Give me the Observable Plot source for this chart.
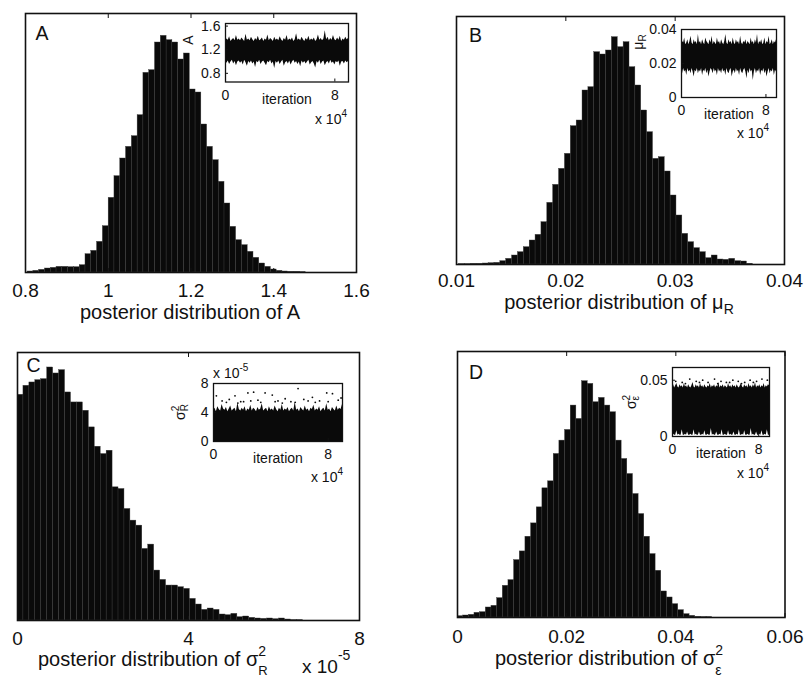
<!DOCTYPE html>
<html><head><meta charset="utf-8">
<script src="https://cdn.jsdelivr.net/npm/d3@7"></script>
<script src="https://cdn.jsdelivr.net/npm/@observablehq/plot@0.6"></script>
<style>
html,body{margin:0;padding:0;background:#fff;}
#chart{position:relative;width:804px;height:678px;overflow:hidden;background:#fff;}
#chart svg{position:absolute;}
</style></head><body><div id="chart"></div>
<script>
// ---------- histogram data (bin start, bin width, counts) ----------
const startA = 0.805, widthA = 0.014;
const countsA = [3,5,8,12,14,17,17,16,16,22,55,65,92,139,224,289,342,377,409,472,599,607,690,710,697,690,639,657,549,540,444,377,337,272,207,137,97,82,62,44,27,17,9,5,3,2,2,1];
const startB = 0.01025, widthB = 0.000537;
const countsB = [1,1,2,2,3,4,5,10,17,27,37,52,72,89,127,185,239,287,332,415,432,522,532,637,630,642,682,652,667,592,537,462,397,317,322,279,207,147,92,67,49,37,19,27,15,14,17,10,9,2];
const startC = 0, widthC = 0.139; // units of 1e-5
const countsC = [678,705,715,722,725,760,742,752,685,655,655,630,580,522,500,510,400,395,335,300,285,215,228,150,122,105,105,100,95,65,48,32,36,32,18,16,20,10,12,8,6,5,6,4,6,3,1,1,0,0];
const startD = 0, widthD = 0.001037;
const countsD = [4,6,8,14,16,30,35,58,95,112,172,198,242,282,330,387,408,490,530,562,635,595,708,700,645,658,635,615,530,475,430,370,310,242,190,140,78,60,40,22,10,5,2,1,1,0,0,0,0,0];

// ---------- tick labels ----------
const ticksA = [0.8, 1, 1.2, 1.4, 1.6];
const ticksB = [0.01, 0.02, 0.03, 0.04];
const ticksC = [0, 4, 8];
const ticksD = [0, 0.02, 0.04, 0.06];
const insetXTicks = [0, 8];
const insetYTicksA = [0.8, 1.2, 1.6];
const insetYTicksB = [0, 0.02, 0.04];
const insetYTicksC = [0, 4, 8];
const insetYTicksD = [0, 0.05];

// ---------- MCMC trace envelopes (iteration in units of 1e4) ----------
const traceIter = [0,0.1,0.2,0.3,0.4,0.5,0.6,0.7,0.8,0.9,1.0,1.1,1.2,1.3,1.4,1.5,1.6,1.7,1.8,1.9,2.0,2.1,2.2,2.3,2.4,2.5,2.6,2.7,2.8,2.9,3.0,3.1,3.2,3.3,3.4,3.5,3.6,3.7,3.8,3.9,4.0,4.1,4.2,4.3,4.4,4.5,4.6,4.7,4.8,4.9,5.0,5.1,5.2,5.3,5.4,5.5,5.6,5.7,5.8,5.9,6.0,6.1,6.2,6.3,6.4,6.5,6.6,6.7,6.8,6.9,7.0,7.1,7.2,7.3,7.4,7.5,7.6,7.7,7.8,7.9,8.0,8.1,8.2,8.3,8.4,8.5,8.6,8.7,8.8,8.9,9.0];
const traceHiA = [1.35,1.38,1.36,1.42,1.34,1.37,1.39,1.35,1.44,1.36,1.38,1.35,1.40,1.37,1.34,1.46,1.36,1.38,1.35,1.41,1.37,1.34,1.39,1.36,1.43,1.35,1.37,1.40,1.34,1.38,1.36,1.45,1.35,1.39,1.37,1.34,1.41,1.36,1.38,1.35,1.42,1.37,1.34,1.39,1.36,1.44,1.35,1.38,1.36,1.40,1.34,1.37,1.47,1.36,1.38,1.35,1.41,1.37,1.34,1.39,1.36,1.43,1.35,1.38,1.36,1.40,1.34,1.37,1.45,1.36,1.39,1.35,1.38,1.52,1.37,1.41,1.35,1.39,1.36,1.44,1.37,1.35,1.40,1.36,1.43,1.34,1.38,1.36,1.41,1.37,1.39];
const traceLoA = [1.00,0.97,1.01,0.95,0.99,1.02,0.96,1.00,0.93,0.99,1.01,0.97,1.00,0.94,1.02,0.98,0.92,1.00,0.97,1.01,0.96,0.99,0.90,1.00,0.98,1.02,0.95,0.99,1.01,0.97,0.93,1.00,0.98,1.02,0.96,0.99,0.88,1.00,0.97,1.01,0.95,0.99,1.02,0.92,0.98,1.00,0.96,1.01,0.94,0.99,1.02,0.97,1.00,0.95,0.99,0.91,1.01,0.97,1.00,0.96,0.99,1.02,0.94,0.98,1.00,0.96,0.89,1.00,0.97,1.02,0.95,0.99,1.01,0.93,0.98,1.00,0.96,1.02,0.97,0.99,0.94,1.00,0.98,1.01,0.92,0.99,1.00,0.96,1.01,0.98,1.00];
const traceHiB = [0.031,0.033,0.032,0.035,0.031,0.032,0.034,0.031,0.033,0.036,0.032,0.031,0.034,0.032,0.033,0.031,0.037,0.032,0.033,0.031,0.034,0.032,0.031,0.035,0.033,0.032,0.031,0.034,0.032,0.036,0.031,0.033,0.032,0.031,0.035,0.032,0.033,0.031,0.034,0.032,0.031,0.033,0.037,0.032,0.031,0.034,0.032,0.033,0.031,0.035,0.032,0.031,0.034,0.032,0.033,0.031,0.036,0.032,0.031,0.033,0.032,0.034,0.031,0.033,0.032,0.031,0.035,0.032,0.033,0.031,0.034,0.032,0.037,0.031,0.033,0.032,0.034,0.031,0.032,0.035,0.031,0.033,0.032,0.036,0.031,0.032,0.034,0.031,0.033,0.032,0.034];
const traceLoB = [0.016,0.014,0.017,0.015,0.016,0.013,0.017,0.015,0.016,0.014,0.017,0.015,0.012,0.016,0.015,0.017,0.014,0.016,0.015,0.017,0.013,0.016,0.015,0.017,0.014,0.016,0.012,0.015,0.017,0.016,0.014,0.017,0.015,0.016,0.013,0.017,0.015,0.016,0.014,0.017,0.015,0.016,0.013,0.017,0.015,0.014,0.016,0.017,0.012,0.015,0.016,0.014,0.017,0.015,0.016,0.013,0.017,0.015,0.014,0.016,0.017,0.015,0.011,0.016,0.014,0.017,0.015,0.016,0.010,0.015,0.017,0.014,0.016,0.015,0.017,0.013,0.016,0.015,0.017,0.014,0.016,0.012,0.015,0.017,0.014,0.016,0.015,0.017,0.013,0.016,0.015];
const traceHiC = [4.3,4.6,4.1,4.8,4.4,4.2,5.1,4.5,4.3,4.7,4.1,4.5,4.9,4.2,4.4,4.6,4.1,5.3,4.4,4.2,4.6,4.3,4.8,4.1,4.5,4.3,5.0,4.2,4.6,4.4,4.1,4.7,4.3,4.5,5.2,4.2,4.4,4.6,4.1,4.8,4.3,4.5,4.2,4.9,4.4,4.1,4.6,4.3,5.1,4.2,4.5,4.3,4.7,4.1,4.4,4.6,4.2,5.4,4.3,4.5,4.1,4.7,4.4,4.2,4.9,4.3,4.5,4.1,4.6,4.4,5.0,4.2,4.5,4.3,4.8,4.1,4.4,4.6,4.2,5.2,4.3,4.5,4.1,4.7,4.4,4.2,4.9,4.3,4.6,4.4,5.1];
const traceHiD = [0.044,0.046,0.043,0.045,0.047,0.044,0.043,0.046,0.044,0.045,0.043,0.047,0.044,0.045,0.043,0.046,0.044,0.043,0.045,0.048,0.044,0.043,0.046,0.044,0.045,0.043,0.047,0.044,0.045,0.043,0.046,0.044,0.043,0.045,0.044,0.047,0.043,0.045,0.044,0.046,0.043,0.045,0.044,0.048,0.043,0.045,0.044,0.046,0.043,0.045,0.044,0.043,0.047,0.044,0.045,0.043,0.046,0.044,0.045,0.043,0.046,0.044,0.043,0.045,0.047,0.044,0.043,0.046,0.044,0.045,0.043,0.047,0.044,0.045,0.043,0.046,0.044,0.048,0.043,0.045,0.044,0.046,0.043,0.045,0.044,0.047,0.043,0.045,0.044,0.046,0.045];
const traceLoD = [0.001,0.002,0.001,0.001,0.005,0.001,0.002,0.001,0.001,0.006,0.001,0.001,0.002,0.001,0.004,0.001,0.001,0.002,0.001,0.001,0.006,0.001,0.002,0.001,0.001,0.004,0.001,0.001,0.002,0.001,0.005,0.001,0.001,0.002,0.001,0.001,0.007,0.001,0.002,0.001,0.001,0.004,0.001,0.001,0.002,0.001,0.006,0.001,0.001,0.002,0.001,0.001,0.005,0.001,0.002,0.001,0.001,0.004,0.001,0.001,0.002,0.001,0.006,0.001,0.001,0.002,0.001,0.005,0.001,0.001,0.002,0.001,0.001,0.007,0.001,0.002,0.001,0.001,0.004,0.001,0.001,0.002,0.001,0.005,0.001,0.001,0.002,0.001,0.006,0.001,0.001];
// outlying samples drawn as dots
const dotIterC = [0.2,0.6,1.1,1.5,1.9,2.4,2.8,3.1,3.6,4.1,4.5,5.0,5.4,5.9,6.3,6.9,7.4,7.9,8.3,8.7,0.9,1.7,2.6,3.3,4.3,4.8,5.7,6.6,7.1,8.0,8.9,2.1];
const dotValC  = [6.3,5.6,5.8,6.3,5.5,6.7,6.8,5.7,6.7,6.4,5.6,5.9,5.5,7.3,5.8,6.1,5.6,6.7,6.6,5.7,5.4,5.3,5.6,5.4,5.5,5.3,5.4,5.6,5.4,5.5,6.0,5.5];
const dotIterD = [0.3,0.9,1.6,2.2,2.8,3.3,3.9,4.5,5.0,5.6,6.1,6.7,7.2,7.8,8.3,8.8,1.2,2.5,4.2,5.3,6.4,7.5];
const dotValD  = [0.049,0.048,0.051,0.049,0.050,0.048,0.051,0.049,0.048,0.050,0.049,0.048,0.050,0.049,0.051,0.050,0.047,0.048,0.047,0.048,0.047,0.048];

// ---------- rendering ----------
const FONT = '"Liberation Sans", Arial, Helvetica, sans-serif';
const INK = "#111";
const chart = document.getElementById("chart");
const fmtG = d3.format("~g");

function place(svg, left, top) {
  svg.style.left = left + "px"; svg.style.top = top + "px";
  chart.appendChild(svg); return svg;
}

function histPanel(p) {
  const ml = 40, mr = 40, mt = 10, mb = 30;
  const w = p.frame.r - p.frame.l, h = p.frame.b - p.frame.t;
  const bins = p.counts.map((c, i) => ({x0: p.start + i * p.width, x1: p.start + (i + 1) * p.width, count: c}));
  const svg = Plot.plot({
    width: w + ml + mr, height: h + mt + mb,
    marginLeft: ml, marginRight: mr, marginTop: mt, marginBottom: mb,
    x: {domain: p.xDomain}, y: {domain: [0, p.yMax], axis: null},
    style: {background: "transparent", overflow: "visible", fontFamily: FONT, color: INK},
    marks: [
      Plot.rectY(bins, {x1: "x0", x2: "x1", y: "count", fill: "#0a0a0a", stroke: "#3a3a3a", strokeWidth: 0.4, clip: true}),
      Plot.axisX({ticks: p.ticks, tickFormat: fmtG, tickSize: -4, tickPadding: p.tickOffset + 4, fontSize: 19, label: null}),
      Plot.axisX({anchor: "top", ticks: p.ticks, tickFormat: () => "", tickSize: -4, label: null}),
      Plot.frame({stroke: INK, strokeWidth: 1.6}),
      Plot.text([p.letter], {frameAnchor: "top-left", dx: p.letterDx, dy: p.letterDy, fontSize: 19.5, fill: INK})
    ]
  });
  return place(svg, p.frame.l - ml, p.frame.t - mt);
}

function insetPanel(p) {
  const ml = 45, mr = 10, mt = 10, mb = 30;
  const w = p.frame.r - p.frame.l, h = p.frame.b - p.frame.t;
  const trace = traceIter.map((it, i) => ({it, lo: p.lo ? p.lo[i] : 0, hi: p.hi[i]}));
  const marks = [
    Plot.frame({fill: "white", stroke: null}),
    Plot.areaY(trace, {x: "it", y1: "lo", y2: "hi", fill: "#0a0a0a", curve: "linear", clip: true})
  ];
  if (p.dotIter) {
    const dots = p.dotIter.map((it, i) => ({it, v: p.dotVal[i]}));
    marks.push(Plot.dot(dots, {x: "it", y: "v", r: 0.9, fill: "#0a0a0a", stroke: null}));
  }
  marks.push(
    Plot.axisX({ticks: insetXTicks, tickFormat: fmtG, tickSize: -3, tickPadding: 11, fontSize: 14, label: null}),
    Plot.axisY({ticks: p.yTicks, tickFormat: fmtG, tickSize: -3, tickPadding: 8, fontSize: 14, label: null}),
    Plot.frame({stroke: INK, strokeWidth: 1.3}),
    Plot.text(["iteration"], {frameAnchor: "bottom", dy: 17.5, lineAnchor: "middle", fontSize: 14, fill: INK})
  );
  const svg = Plot.plot({
    width: w + ml + mr, height: h + mt + mb,
    marginLeft: ml, marginRight: mr, marginTop: mt, marginBottom: mb,
    x: {domain: [0, 9]}, y: {domain: p.yDomain},
    style: {background: "transparent", overflow: "visible", fontFamily: FONT, color: INK},
    marks
  });
  return place(svg, p.frame.l - ml, p.frame.t - mt);
}

histPanel({frame: {l: 25, r: 356, t: 13, b: 272}, xDomain: [0.8, 1.6], ticks: ticksA, tickOffset: 11,
  start: startA, width: widthA, counts: countsA, yMax: 777, letter: "A", letterDx: 10, letterDy: 13});
histPanel({frame: {l: 455.5, r: 783.5, t: 16, b: 264}, xDomain: [0.01, 0.04], ticks: ticksB, tickOffset: 9,
  start: startB, width: widthB, counts: countsB, yMax: 744, letter: "B", letterDx: 12.5, letterDy: 12});
histPanel({frame: {l: 17, r: 359, t: 352, b: 620}, xDomain: [0, 8], ticks: ticksC, tickOffset: 11,
  start: startC, width: widthC, counts: countsC, yMax: 805, letter: "C", letterDx: 9, letterDy: 6});
histPanel({frame: {l: 456.5, r: 784, t: 351, b: 617}, xDomain: [0, 0.06], ticks: ticksD, tickOffset: 12,
  start: startD, width: widthD, counts: countsD, yMax: 797, letter: "D", letterDx: 11.5, letterDy: 14});

insetPanel({frame: {l: 225, r: 348, t: 23, b: 81.5}, yDomain: [0.653, 1.644], yTicks: insetYTicksA, lo: traceLoA, hi: traceHiA});
insetPanel({frame: {l: 681, r: 776, t: 29, b: 97}, yDomain: [0, 0.04], yTicks: insetYTicksB, lo: traceLoB, hi: traceHiB});
insetPanel({frame: {l: 213, r: 342, t: 383, b: 441}, yDomain: [0, 8], yTicks: insetYTicksC, lo: null, hi: traceHiC, dotIter: dotIterC, dotVal: dotValC});
insetPanel({frame: {l: 672, r: 769, t: 367, b: 436}, yDomain: [0, 0.0613], yTicks: insetYTicksD, lo: traceLoD, hi: traceHiD, dotIter: dotIterD, dotVal: dotValD});

// ---------- labels with sub/superscripts ----------
const over = d3.select(chart).append("svg")
  .attr("width", 804).attr("height", 678)
  .style("left", "0px").style("top", "0px").style("pointer-events", "none")
  .attr("font-family", FONT).attr("fill", INK);

function mathText(x, y, parts, {size = 20, anchor = "start", rotate = 0} = {}) {
  const t = over.append("text").attr("font-size", size).attr("text-anchor", anchor)
    .attr("transform", `translate(${x},${y}) rotate(${rotate})`);
  parts.forEach(p => {
    const s = t.append("tspan").text(p.t);
    if (p.size) s.attr("font-size", p.size);
    if (p.dx != null) s.attr("dx", p.dx);
    if (p.dy != null) s.attr("dy", p.dy);
  });
}

// main x-axis labels
mathText(190, 319, [{t: "posterior distribution of A"}], {anchor: "middle"});
mathText(619, 309, [{t: "posterior distribution of μ"}, {t: "R", size: 14, dy: 5}], {anchor: "middle"});
mathText(38, 666, [{t: "posterior distribution of σ"}, {t: "2", size: 14, dy: -10}, {t: "R", size: 13, dx: -7.8, dy: 19}]);
mathText(495, 665, [{t: "posterior distribution of σ"}, {t: "2", size: 14, dy: -10}, {t: "ε", size: 14, dx: -7.8, dy: 20}]);
// exponent of panel C x-axis
mathText(302, 673, [{t: "x 10"}, {t: "-5", size: 14, dy: -13}], {size: 19});

// inset y labels (rotated)
mathText(193, 40, [{t: "A"}], {size: 14, anchor: "middle", rotate: -90});
mathText(643, 42, [{t: "μ"}, {t: "R", size: 10, dy: 3}], {size: 14, anchor: "middle", rotate: -90});
mathText(185, 412, [{t: "σ"}, {t: "2", size: 10, dy: -6}, {t: "R", size: 10, dx: -5.6, dy: 9}], {size: 14, anchor: "middle", rotate: -90});
mathText(636, 402, [{t: "σ"}, {t: "2", size: 10, dy: -6}, {t: "ε", size: 10, dx: -5.6, dy: 9}], {size: 14, anchor: "middle", rotate: -90});

// inset x exponents
mathText(347, 124, [{t: "x 10"}, {t: "4", size: 10, dy: -7}], {size: 14, anchor: "end"});
mathText(769, 138, [{t: "x 10"}, {t: "4", size: 10, dy: -7}], {size: 14, anchor: "end"});
mathText(343, 482, [{t: "x 10"}, {t: "4", size: 10, dy: -7}], {size: 14, anchor: "end"});
mathText(769, 478, [{t: "x 10"}, {t: "4", size: 10, dy: -7}], {size: 14, anchor: "end"});
// inset C y exponent
mathText(213, 378, [{t: "x 10"}, {t: "-5", size: 10, dy: -7}], {size: 14});
</script></body></html>
